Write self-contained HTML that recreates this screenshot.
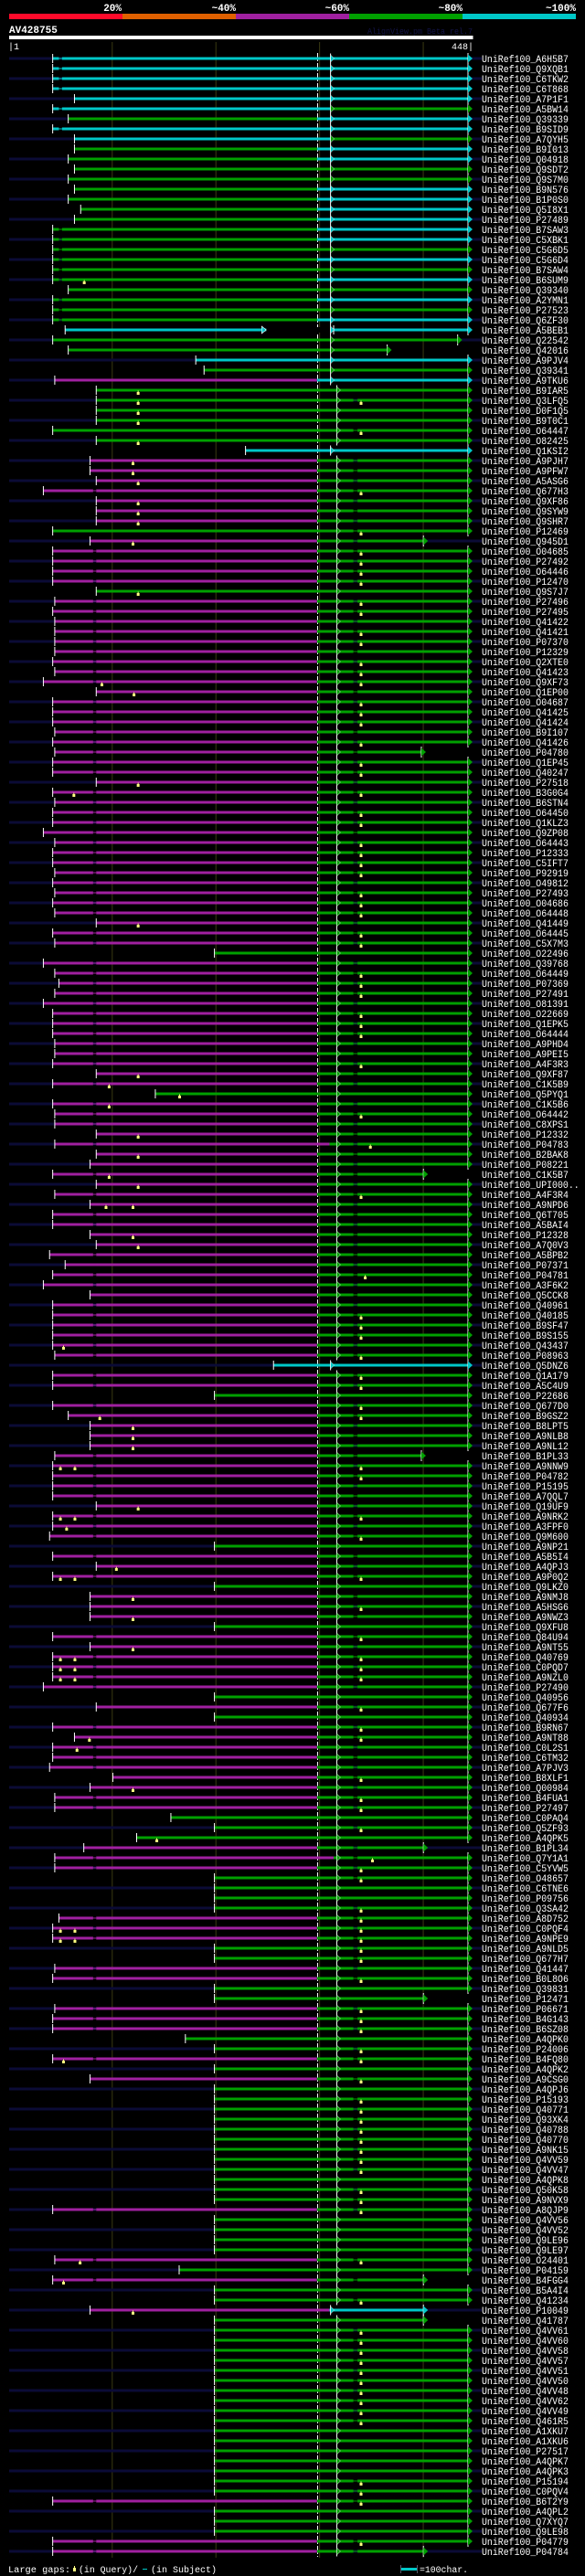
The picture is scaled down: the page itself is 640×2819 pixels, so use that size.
<!DOCTYPE html>
<html><head><meta charset="utf-8">
<style>
html,body{margin:0;padding:0;background:#000;}
svg{display:block;}
text{font-family:"Liberation Mono","DejaVu Sans Mono",monospace;}
</style></head>
<body>
<svg id="chart" xmlns="http://www.w3.org/2000/svg" width="640" height="2819" viewBox="0 0 640 2819">
<rect x="0" y="0" width="640" height="2819" fill="#000"/>
<g>
<rect x="10" y="15" width="124" height="6" fill="#ff0a2a"/>
<rect x="134" y="15" width="124" height="6" fill="#e06000"/>
<rect x="258" y="15" width="124" height="6" fill="#a020a0"/>
<rect x="382" y="15" width="124" height="6" fill="#00a000"/>
<rect x="506" y="15" width="124" height="6" fill="#00c8c8"/>
<text x="133" y="12" fill="#fff" font-size="11" font-weight="bold" text-anchor="end">20%</text>
<text x="258" y="12" fill="#fff" font-size="11" font-weight="bold" text-anchor="end">~40%</text>
<text x="382" y="12" fill="#fff" font-size="11" font-weight="bold" text-anchor="end">~60%</text>
<text x="506" y="12" fill="#fff" font-size="11" font-weight="bold" text-anchor="end">~80%</text>
<text x="630" y="12" fill="#fff" font-size="11" font-weight="bold" text-anchor="end">~100%</text>
</g>
<text x="10" y="36" fill="#fff" font-size="11" font-weight="bold">AV428755</text>
<text x="402" y="37" fill="#141448" font-size="9" textLength="115" lengthAdjust="spacingAndGlyphs">AlignView.pm Beta rel.7</text>
<rect x="10" y="39" width="507.5" height="4" fill="#fff"/>
<text x="9" y="54" fill="#fff" font-size="10">|1</text>
<text x="518" y="54" fill="#fff" font-size="10" text-anchor="end">448|</text>
<g id="grid"></g>
<g id="rows"></g>
<g>
<text x="9" y="2815" fill="#fff" font-size="10" textLength="68" lengthAdjust="spacingAndGlyphs">Large gaps:</text>
<rect x="80" y="2810" width="3" height="4" fill="#ffff80"/>
<rect x="81" y="2808" width="1" height="2" fill="#ffff80"/>
<text x="86" y="2815" fill="#fff" font-size="10" textLength="65" lengthAdjust="spacingAndGlyphs">(in Query)/</text>
<rect x="156" y="2811" width="5" height="1" fill="#00c8c8"/>
<text x="165" y="2815" fill="#fff" font-size="10" textLength="72" lengthAdjust="spacingAndGlyphs">(in Subject)</text>
<rect x="439" y="2810" width="17" height="3" fill="#00c8c8"/>
<rect x="438" y="2807" width="1" height="9" fill="#556"/>
<rect x="456" y="2807" width="1" height="9" fill="#556"/>
<text x="459" y="2815" fill="#fff" font-size="10" textLength="53" lengthAdjust="spacingAndGlyphs">=100char.</text>
</g>
</svg>
<script>
const labels = ["A6H5B7","Q9XQB1","C6TKW2","C6T868","A7P1F1","A5BW14","Q39339","B9SID9","A7QYH5","B9I013",
"Q04918","Q9SDT2","Q9S7M0","B9N576","B1P0S0","Q5I8X1","P27489","B7SAW3","C5XBK1","C5G6D5",
"C5G6D4","B7SAW4","B6SUM9","Q39340","A2YMN1","P27523","Q6ZF30","A5BEB1","Q22542","Q42016",
"A9PJV4","Q39341","A9TKU6","B9IAR5","Q3LFQ5","D0F1Q5","B9T0C1","O64447","O82425","Q1KSI2",
"A9PJH7","A9PFW7","A5ASG6","Q677H3","Q9XF86","Q9SYW9","Q9SHR7","P12469","Q945D1","O04685",
"P27492","O64446","P12470","Q9S7J7","P27496","P27495","Q41422","Q41421","P07370","P12329",
"Q2XTE0","Q41423","Q9XF73","Q1EP00","O04687","Q41425","Q41424","B9I107","Q41426","P04780",
"Q1EP45","Q40247","P27518","B3G0G4","B6STN4","O64450","Q1KLZ3","Q9ZP08","O64443","P12333",
"C5IFT7","P92919","O49812","P27493","O04686","O64448","Q41449","O64445","C5X7M3","O22496",
"Q39768","O64449","P07369","P27491","O81391","O22669","Q1EPK5","O64444","A9PHD4","A9PEI5",
"A4F3R3","Q9XF87","C1K5B9","Q5PYQ1","C1K5B6","O64442","C8XPS1","P12332","P04783","B2BAK8",
"P08221","C1K5B7","UPI000..","A4F3R4","A9NPD6","Q6T705","A5BAI4","P12328","A7Q0V3","A5BPB2",
"P07371","P04781","A3F6K2","Q5CCK8","Q40961","Q40185","B9SF47","B9S155","Q43437","P08963",
"Q5DNZ6","Q1A179","A5C4U9","P22686","Q677D0","B9GSZ2","B8LPT5","A9NLB8","A9NL12","B1PL33",
"A9NNW9","P04782","P15195","A7QQL7","Q19UF9","A9NRK2","A3FPF0","Q9M600","A9NP21","A5B5I4",
"A4QPJ3","A9P0Q2","Q9LKZ0","A9NMJ8","A5HSG6","A9NWZ3","Q9XFU8","Q84U94","A9NT55","Q40769",
"C0PQD7","A9NZL0","P27490","Q40956","Q677F6","Q40934","B9RN67","A9NT88","C0L2S1","C6TM32",
"A7PJV3","B8XLF1","Q00984","B4FUA1","P27497","C0PAQ4","Q5ZF93","A4QPK5","B1PL34","Q7Y1A1",
"C5YVW5","O48657","C6TNE6","P09756","Q3SA42","A8D752","C0PQF4","A9NPE9","A9NLD5","Q677H7",
"Q41447","B0L8O6","Q39831","P12471","P06671","B4G143","B6SZ08","A4QPK0","P24006","B4FQ80",
"A4QPK2","A9CSG0","A4QPJ6","P15193","Q40771","Q93XK4","Q40788","Q40770","A9NK15","Q4VV59",
"Q4VV47","A4QPK8","Q50K58","A9NVX9","A8QJP9","Q4VV56","Q4VV52","Q9LE96","Q9LE97","O24401",
"P04159","B4FGG4","B5A4I4","Q41234","P10049","Q41787","Q4VV61","Q4VV60","Q4VV58","Q4VV57",
"Q4VV51","Q4VV50","Q4VV48","Q4VV62","Q4VV49","Q461R5","A1XKU7","A1XKU6","P27517","A4QPK7",
"A4QPK3","P15194","C0PQV4","B6T2Y9","A4QPL2","Q7XYQ7","Q9LE98","P04779","P04784"];

const starts = [43,43,43,43,64,43,58,43,64,64,
58,64,58,64,58,70,64,43,43,43,
43,43,43,58,43,43,43,55,43,58,
181,189,45,85,85,85,85,43,85,229,
79,79,85,34,85,85,85,43,79,43,
43,43,43,85,45,43,45,45,45,45,
43,45,34,85,43,43,43,45,43,45,
43,43,85,43,45,43,43,34,45,43,
43,45,43,45,43,45,85,43,45,199,
34,45,49,45,34,43,43,43,45,45,
43,85,43,142,43,45,45,85,45,85,
79,43,85,45,79,43,43,79,85,40,
55,43,34,79,43,43,43,43,43,45,
256,43,43,199,43,58,79,79,79,45,
43,43,43,43,85,43,43,40,199,43,
85,43,199,79,79,79,199,43,79,43,
43,43,34,199,85,199,43,64,43,43,
40,101,79,45,45,157,199,124,73,45,
45,199,199,199,199,49,43,43,199,199,
45,43,199,199,45,43,43,171,199,43,
199,79,199,199,199,199,199,199,199,199,
199,199,199,199,43,199,199,199,199,45,
165,43,199,199,79,199,199,199,199,199,
199,199,199,199,199,199,199,199,199,199,
199,199,199,43,199,199,199,43,43];

const endOverrides = {28:438,29:370,48:405,69:403,111:405,139:403,178:405,193:405,221:405,224:405,225:405,248:405};

const kinds = ("aaaaa"+"bcabc"+"cggccccccg"+"cgcgcgcagg"+"agngggggga"+"mmmmmmmgmm"+"mmmgmmmmmm"+
"mmmmmmmmmm"+"mmmmmmmmmm"+"mmmmmmmmmg"+"mmmmmmmmmm"+"mmmgmmmmmm"+"mmmmmmmmmm"+"mmmmmmmmmm"+
"ammgmmmmmm"+"mmmmmmmmgm"+"mmgmmmgmmm"+"mmmgmgmmmm"+"mmmmmgggmm"+"mggggmmmgg"+"mmggmmmggm"+
"gmgggggggg"+"ggggmggggm"+"gmggnggggg"+"gggggggggg"+"gggmgggmm").split("");

const splitOverrides = {108:310,179:314,224:310};

const markers = {22:[73],33:[125],34:[125,340],35:[125],36:[125],37:[340],38:[125],
40:[120],41:[120],42:[125],43:[340],44:[125],45:[125],46:[125],47:[340],48:[120],49:[340],50:[340],51:[340],52:[340],53:[125],54:[340],55:[340],57:[340],58:[340],60:[340],61:[340],62:[90,340],63:[121],64:[340],65:[340],66:[340],68:[340],70:[340],71:[340],72:[125],73:[63,340],75:[340],76:[340],78:[340],79:[340],80:[340],81:[340],83:[340],84:[340],85:[340],86:[125],87:[340],88:[340],91:[340],92:[340],93:[340],95:[340],96:[340],97:[340],
100:[340],101:[125],102:[97],103:[165],104:[97],105:[340],107:[125],108:[349],109:[125],111:[97],112:[125],113:[340],114:[94,120],117:[120],118:[125],121:[344],125:[340],126:[340],127:[340],128:[53],129:[340],131:[340],132:[340],134:[340],135:[88,340],136:[120],137:[120],138:[120],140:[50,64,340],141:[340],144:[125],145:[50,64,340],146:[56],147:[340],150:[104],151:[50,64,340],153:[120],154:[340],155:[120],157:[340],158:[120],159:[50,64,340],160:[50,64,340],161:[50,64,340],164:[340],166:[340],167:[78,340],168:[66],171:[340],172:[120],173:[340],174:[340],176:[340],177:[143],179:[351],180:[340],181:[340],184:[340],185:[340],186:[50,64,340],187:[50,64,340],188:[340],189:[340],191:[340],194:[340],195:[340],196:[340],198:[340],199:[53,340],
201:[340],203:[340],204:[340],205:[340],206:[340],207:[340],208:[340],209:[340],210:[340],212:[340],213:[340],214:[340],219:[69,340],221:[53],223:[340],224:[120],226:[340],227:[340],228:[340],229:[340],230:[340],231:[340],232:[340],233:[340],234:[340],235:[340],241:[340],242:[340],243:[340],247:[340]};

const gridTicks = [100,200,300,400];

const NS = "http://www.w3.org/2000/svg";
const COL = {c:"#00c8c8", g:"#00a000", m:"#a020a0"};
function X(c){ return 10 + (c-1)*507/447; }
function Y(i){ return 64 + 11*i; }
function mk(tag, attrs, parent){
  const e = document.createElementNS(NS, tag);
  for (const k in attrs) e.setAttribute(k, attrs[k]);
  parent.appendChild(e); return e;
}
const grid = document.getElementById("grid");
const rowsG = document.getElementById("rows");
const lastY = Y(labels.length-1);
gridTicks.forEach(t => {
  const l = mk("line",{x1:X(t)+0.5,x2:X(t)+0.5,y1:46,y2:lastY+7,stroke:"#3a3a12","stroke-width":1},grid);
  
  
});
labels.forEach((lab,i)=>{
  if (i%2===0){
    const r = mk("rect",{x:10,y:Y(i)-1.5,width:517,height:3,fill:"#0b0b36"},rowsG);
    
    
  }
});
const dash = mk("line",{x1:347.5,x2:347.5,y1:58,y2:lastY+6,stroke:"#fff","stroke-width":1,"stroke-dasharray":"9,2"},rowsG);



const kindMap = {a:["c","c",311],b:["c","g",311],c:["g","c",298],g:["g","g",298],m:["m","g",298],n:["m","c",298]};
labels.forEach((lab,i)=>{
  const y = Y(i);
  const g = mk("g",{},rowsG);
  
  
  const km = kindMap[kinds[i]];
  const lc = COL[km[0]], rc = COL[km[1]];
  const split = splitOverrides[i] || km[2];
  const s = starts[i];
  const e = endOverrides[i] || 448;
  const tipX = X(e), baseX = tipX - 5;
  const sx = X(s);
  const spx = Math.max(sx, X(split));
  if (spx > sx) mk("rect",{x:sx,y:y-1.5,width:spx-sx,height:3,fill:lc},g);
  mk("rect",{x:spx,y:y-1.5,width:baseX-spx,height:3,fill:rc},g);
  if (lab==="A5BEB1"){
    mk("rect",{x:X(249),y:y-3,width:X(314)-X(249),height:6,fill:"#000"},g);
    mk("polygon",{points:`${X(249)-5},${y-4} ${X(249)},${y} ${X(249)-5},${y+4}`,fill:lc,stroke:"#fff","stroke-width":0.6},g);
    mk("line",{x1:X(314),x2:X(314),y1:y-5,y2:y+5,stroke:"#fff","stroke-width":1},g);
  }
  function gap(a,b,col){
    mk("rect",{x:X(a),y:y-1.5,width:X(b)-X(a),height:3,fill:(i%2===0)?"#0b0b36":"#000"},g);
    mk("rect",{x:X(a),y:y-0.5,width:X(b)-X(a),height:1,fill:col},g);
  }
  const mk340 = (markers[i]||[]).indexOf(340)>=0;
  if (i<28 && s<50) gap(49,52,lc);
  if (kinds[i]==="m" && s<50) gap(82,85,lc);
  if (i>=33 && (kinds[i]==="m"||mk340) && s<333 && e>345) gap(333,337,rc);
  mk("line",{x1:sx,x2:sx,y1:y-5,y2:y+5,stroke:"#fff","stroke-width":1},g);
  const ac = (kinds[i]==="a"||kinds[i]==="b"||kinds[i]==="c"||kinds[i]==="n"||i<33) ? 311 : 317;
  if (s < ac && e > ac){
    const ax = X(ac);
    mk("line",{x1:ax,x2:ax,y1:y-5.5,y2:y+5.5,stroke:"#fff","stroke-width":1},g);
    mk("polygon",{points:`${ax},${y-4} ${ax+4},${y} ${ax},${y+4}`,fill:rc,stroke:"#fff","stroke-width":0.5},g);
  }
  mk("line",{x1:baseX,x2:baseX,y1:y-6,y2:y+6,stroke:"#fff","stroke-width":1},g);
  mk("polygon",{points:`${baseX},${y-4.5} ${tipX},${y} ${baseX},${y+4.5}`,fill:rc},g);
  (markers[i]||[]).forEach(c=>{
    const m = mk("rect",{x:X(c)-1,y:y+2,width:3,height:3,fill:"#ffff80"},g);
    
    
    mk("rect",{x:X(c),y:y+0.5,width:1,height:2,fill:"#ffff80"},g);
  });
  const full = "UniRef100_"+lab;
  const t = mk("text",{x:527,y:y+4,fill:"#fff","font-size":11,textLength:(full.length*5.93).toFixed(1),lengthAdjust:"spacingAndGlyphs"},g);
  t.textContent = full;
  
  
});
</script>
</body></html>
